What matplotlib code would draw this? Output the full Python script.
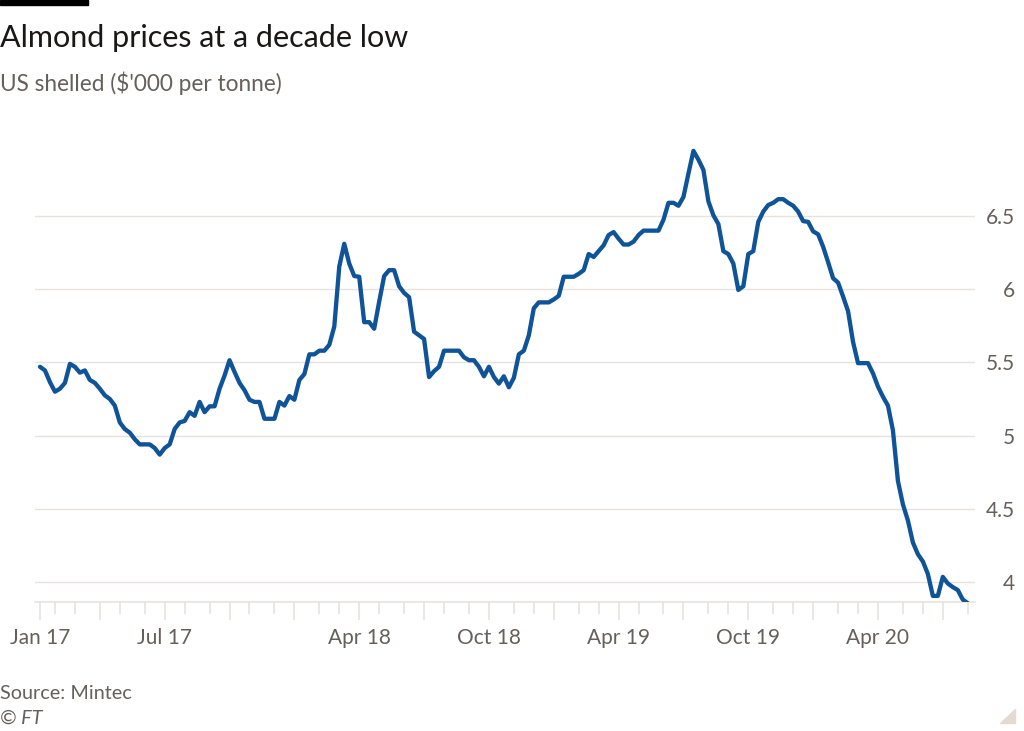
import matplotlib
matplotlib.use('Agg')
import matplotlib.pyplot as plt
import matplotlib.patches as patches
import numpy as np
import pandas as pd

# weekly US shelled almond price, $'000 per tonne
start_date='2017-01-11'
prices=[5.47,5.445,5.365,5.30,5.32,5.36,5.49,5.47,5.43,5.445,
        5.38,5.36,5.32,5.275,5.25,5.205,5.09,5.045,5.02,4.975,
        4.94,4.94,4.94,4.915,4.87,4.915,4.94,5.045,5.09,5.10,
        5.16,5.135,5.23,5.16,5.20,5.20,5.32,5.41,5.515,5.435,
        5.36,5.31,5.245,5.23,5.23,5.115,5.115,
        5.115,5.23,5.205,5.27,5.245,5.38,5.42,5.555,5.555,5.58,
        5.58,5.62,5.745,6.155,6.31,6.175,6.09,6.085,5.775,5.775,
        5.73,5.915,6.09,6.13,6.13,6.02,5.975,5.945,5.71,5.685,
        5.66,5.40,5.44,5.47,5.58,5.58,5.58,5.58,5.535,5.515,
        5.515,5.47,5.405,5.47,5.40,5.355,5.405,
        5.33,5.395,5.555,5.58,5.685,5.87,5.91,5.91,5.91,5.93,
        5.955,6.085,6.085,6.085,6.105,6.13,6.24,6.22,6.26,6.30,
        6.37,6.39,6.345,6.305,6.305,6.325,6.37,6.40,6.40,6.40,
        6.40,6.475,6.59,6.59,6.57,6.63,6.79,6.945,6.885,6.815,
        6.60,6.505,6.445,6.26,6.24,6.175,5.995,
        6.02,6.24,6.26,6.46,6.53,6.575,6.59,6.615,6.615,6.59,
        6.57,6.53,6.465,6.46,6.395,6.375,6.29,6.185,6.075,6.045,
        5.95,5.85,5.64,5.495,5.495,5.495,5.425,5.335,5.265,5.205,
        5.035,4.69,4.53,4.42,4.27,4.19,4.14,4.055,3.905,3.905,
        4.035,3.99,3.965,3.945,3.88,3.855]
y_ticks=[4,4.5,5,5.5,6,6.5]
y_labels=['4','4.5','5','5.5','6','6.5']
x_labels=['Jan 17','Jul 17','Apr 18','Oct 18','Apr 19','Oct 19','Apr 20']

dates=pd.date_range(start_date,periods=len(prices),freq='7D')
x=np.arange(len(prices))

# first week of each month -> tick positions
month_idx=[0]+[i for i in range(1,len(dates)) if dates[i].month!=dates[i-1].month]
major=[i for i in month_idx if dates[i].month in (1,4,7,10)]
minor=[i for i in month_idx if i not in major]
major_lab=[dates[i].strftime('%b %y') if dates[i].strftime('%b %y') in x_labels else '' for i in major]

grey='#66605c'
line_col='#e9e3de'
plt.rcParams['font.family']=['Lato','DejaVu Sans']

fig=plt.figure(figsize=(10.24,7.31),dpi=100)
fig.patch.set_facecolor('white')
ax=fig.add_axes([35/1024,129/731,940/1024,459.2/731])
ax.plot(x,prices,color='#0f5499',linewidth=3.1,solid_joinstyle='round',solid_capstyle='round',zorder=3)

ax.set_xlim(-1,187.45)
ax.set_ylim(3.8634,7.0)
ax.set_yticks(y_ticks)
ax.set_yticklabels(y_labels)
ax.yaxis.tick_right()
ax.tick_params(axis='y',length=0,pad=28.8,labelsize=15,labelcolor=grey)
for t in ax.get_yticklabels():
    t.set_ha('right')
ax.grid(axis='y',color=line_col,linewidth=1)
ax.set_axisbelow(True)

ax.set_xticks(major)
ax.set_xticklabels(major_lab)
ax.set_xticks(minor,minor=True)
ax.tick_params(axis='x',which='major',length=13,width=1.2,color=line_col,pad=6,labelsize=15,labelcolor=grey)
ax.tick_params(axis='x',which='minor',length=8.5,width=1.2,color=line_col)

for s in ['top','left','right']:
    ax.spines[s].set_visible(False)
ax.spines['bottom'].set_color(line_col)
ax.spines['bottom'].set_linewidth(1.2)
ax.set_facecolor('white')

fig.text(0,1-47/731,'Almond prices at a decade low',fontsize=22,color='#1a1817',va='baseline',ha='left')
fig.text(0,1-91/731,"US shelled ($'000 per tonne)",fontsize=16.3,color=grey,va='baseline',ha='left')
fig.text(0,1-699/731,'Source: Mintec',fontsize=14.3,color=grey,va='baseline',ha='left')
fig.text(0,1-724/731,'© FT',fontsize=14.3,color=grey,va='baseline',ha='left',style='italic')

fig.add_artist(patches.Rectangle((0,1-5/731),88/1024,5/731,transform=fig.transFigure,color='black'))
fig.add_artist(patches.Polygon([(1000/1024,1-723/731),(1015/1024,1-723/731),(1015/1024,1-709/731)],
                               closed=True,transform=fig.transFigure,color='#e3dad1'))

fig.savefig('out.png',dpi=100)
